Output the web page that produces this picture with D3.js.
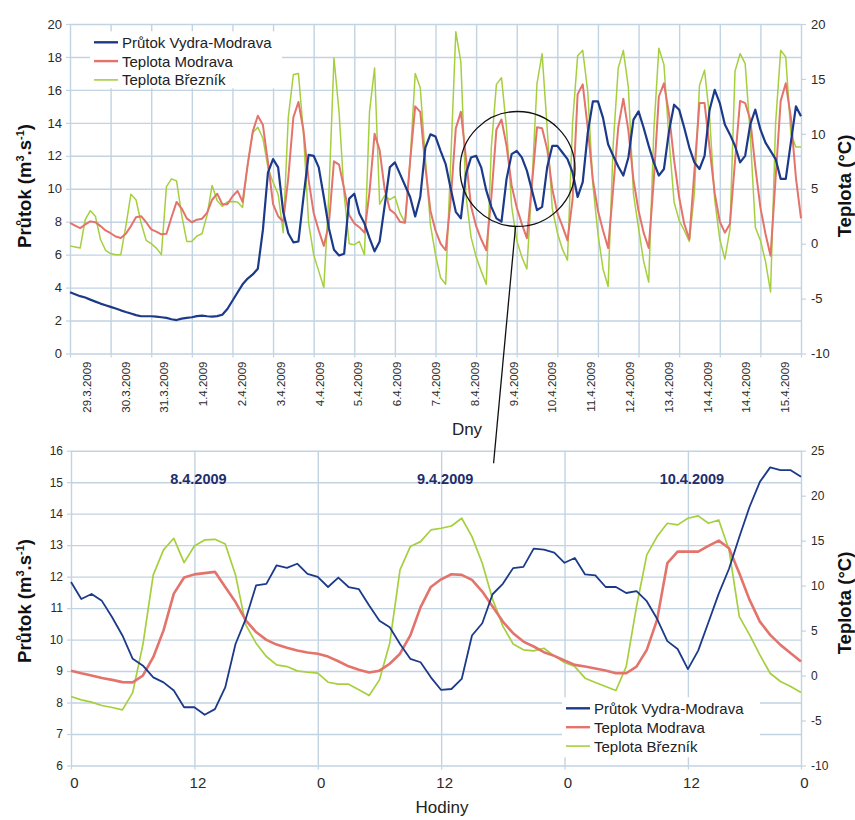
<!DOCTYPE html>
<html><head><meta charset="utf-8">
<script src="https://cdn.jsdelivr.net/npm/d3@7/dist/d3.min.js"></script>
<style>
html,body{margin:0;padding:0;background:#fff;}
svg{display:block;}
</style></head>
<body>
<svg id="chart" width="855" height="820"></svg>
<script>
// ---------------- DATA ----------------
const dayLabels = ["29.3.2009","30.3.2009","31.3.2009","1.4.2009","2.4.2009","3.4.2009","4.4.2009","5.4.2009","6.4.2009","7.4.2009","8.4.2009","9.4.2009","10.4.2009","11.4.2009","12.4.2009","13.4.2009","14.4.2009","14.4.2009","15.4.2009"];
const sampleStepDays = 0.125; // top chart: one sample every 3 hours
const flowTop = [3.72,3.6,3.48,3.4,3.27,3.15,3.03,2.93,2.83,2.73,2.62,2.52,2.43,2.33,2.26,2.26,2.26,2.24,2.2,2.16,
  2.08,2.03,2.12,2.16,2.2,2.27,2.3,2.26,2.24,2.27,2.35,2.7,3.2,3.7,4.2,4.55,4.8,5.15,7.5,11.0,
  11.8,11.3,8.6,7.3,6.75,6.8,9.5,12.06,12.0,11.3,9.5,7.6,6.3,5.95,6.05,9.4,9.7,8.5,7.9,7.0,
  6.2,6.8,9.0,11.3,11.6,10.9,10.2,9.5,8.32,9.5,12.5,13.3,13.17,12.3,11.5,10.0,8.6,8.2,10.9,11.9,
  12.0,11.3,9.9,8.9,8.2,8.0,10.6,12.1,12.3,11.9,11.1,9.9,8.7,8.9,11.3,12.6,12.6,12.2,11.8,11.0,
  9.5,10.4,13.4,15.3,15.3,14.3,12.7,12.0,11.35,10.8,11.9,14.2,14.7,13.7,12.6,11.6,10.8,11.2,13.5,15.1,
  14.8,13.7,12.5,11.6,11.2,12.0,14.8,16.0,15.2,13.9,13.3,12.6,11.6,12.0,13.9,14.8,13.6,12.8,12.3,11.8,
  10.6,10.6,12.8,15.0,14.4];
const tempModravaTop = [1.9,1.65,1.42,1.75,2.03,1.96,1.6,1.2,0.95,0.65,0.52,0.9,1.6,2.4,2.5,1.95,1.3,1.1,0.85,0.9,
  2.4,3.8,3.2,2.3,1.95,2.18,2.27,2.8,4.0,4.55,3.6,3.6,4.3,4.8,3.8,7.2,10.2,11.65,10.8,7.4,
  3.6,2.5,2.0,6.0,11.5,12.9,10.3,5.8,2.8,1.2,-0.2,1.8,7.5,7.2,5.0,2.6,1.85,1.5,1.0,4.7,
  10.0,8.5,4.9,3.1,2.75,2.0,1.9,7.5,12.5,12.0,7.0,3.0,1.2,0.0,-0.6,4.0,10.5,12.0,7.8,3.4,
  1.6,0.4,-0.6,4.2,10.4,11.3,8.9,5.3,3.3,1.8,0.5,5.4,10.6,10.5,8.6,5.0,2.8,1.6,0.3,4.0,
  13.6,14.5,10.5,5.8,3.0,1.2,-0.4,5.0,10.6,13.2,10.3,5.8,3.0,1.0,-0.4,5.8,13.4,14.6,11.8,7.6,
  4.2,1.8,0.4,6.6,12.8,12.8,8.7,4.6,2.0,1.0,1.8,7.5,13.0,12.8,11.3,7.0,3.3,0.9,-1.1,6.0,
  13.0,14.6,11.5,6.0,2.3];
const tempBreznikTop = [-0.2,-0.3,-0.4,2.2,3.0,2.5,0.4,-0.6,-0.9,-1.0,-1.0,1.6,4.5,4.0,1.9,0.3,0.0,-0.4,-1.0,5.2,
  5.9,5.7,2.6,0.2,0.2,0.7,0.9,2.6,5.3,3.9,3.4,3.8,3.85,3.8,3.3,7.2,10.1,10.6,9.6,6.9,
  5.6,4.5,1.0,11.5,15.4,15.5,10.0,1.9,-1.0,-2.5,-4.0,4.5,16.9,12.0,4.5,0.0,-0.1,0.2,-1.0,12.0,
  16.0,3.6,4.4,4.0,4.3,2.8,1.9,7.5,15.5,14.2,7.8,1.7,-1.0,-3.1,-3.7,7.5,19.3,16.5,4.4,0.6,
  -1.2,-2.5,-3.7,8.8,14.5,15.1,10.5,3.4,0.3,-1.2,-2.3,5.5,14.6,17.3,10.5,3.2,1.0,-0.5,-1.5,11.0,
  17.1,17.6,13.8,5.4,0.9,-2.3,-3.9,9.0,16.0,17.6,14.2,4.5,1.4,-1.6,-3.5,10.2,17.8,16.3,9.5,3.8,
  2.1,1.2,0.2,4.6,14.4,15.8,11.5,4.0,0.4,-1.4,1.3,15.7,17.3,16.4,10.0,1.5,0.3,-1.6,-4.4,11.0,
  17.6,17.0,10.0,8.8,8.8];

// bottom chart: hourly values 8.4.2009 0:00 – 10.4.2009 23:00
const flowZoom = [11.83,11.29,11.45,11.23,10.71,10.13,9.39,9.17,8.80,8.64,8.38,7.85,7.85,7.61,7.79,8.48,9.86,10.66,11.72,11.77,
  12.36,12.28,12.41,12.09,11.99,11.67,11.97,11.67,11.6,11.08,10.6,10.39,9.86,9.39,9.28,8.80,8.40,8.43,8.75,10.13,
  10.52,11.44,11.77,12.27,12.31,12.89,12.86,12.76,12.44,12.59,12.07,12.04,11.67,11.67,11.48,11.54,11.22,10.66,9.95,9.70,
  9.06,9.65,10.55,11.46,12.25,13.26,14.22,15.01,15.47,15.38,15.38,15.17];
const tempModravaZoom = [0.54,0.26,0.01,-0.27,-0.48,-0.73,-0.76,0.01,2.04,5.02,9.11,10.9,11.25,11.39,11.53,9.85,8.17,6.14,4.84,3.97,
  3.44,3.09,2.78,2.57,2.43,2.11,1.59,1.03,0.64,0.33,0.54,1.31,2.43,4.46,7.61,9.85,10.7,11.26,11.19,10.63,
  9.34,7.67,6.0,4.71,3.78,3.23,2.6,2.19,1.67,1.19,1.0,0.78,0.56,0.26,0.26,1.0,2.85,6.19,12.49,13.78,
  13.78,13.78,14.41,15.0,14.15,11.37,8.41,6.0,4.52,3.41,2.49,1.56];
const tempBreznikZoom = [-2.33,-2.7,-2.96,-3.33,-3.55,-3.81,-1.9,3.5,11.2,13.97,15.26,12.56,14.41,15.08,15.15,14.63,11.19,5.63,3.6,2.12,
  1.19,1.0,0.52,0.37,0.26,-0.74,-0.96,-0.96,-1.59,-2.22,-0.48,3.6,11.75,14.34,14.89,16.19,16.38,16.63,17.49,15.45,
  12.49,8.5,5.5,3.52,2.86,2.75,3.04,2.19,1.45,1.0,-0.29,-0.77,-1.22,-1.66,1.0,7.67,13.41,15.45,16.93,16.75,
  17.49,17.75,16.93,17.3,13.97,6.56,4.52,2.3,0.26,-0.66,-1.22,-1.88];

const hourTicks = [0,12,24,36,48,60,71];
const hourTickLabels = ["0","12","0","12","0","12","0"];
const zoomDates = ["8.4.2009","9.4.2009","10.4.2009"];
const zoomDateHours = [12,36,60];
const seriesNames = ["Průtok Vydra-Modrava","Teplota Modrava","Teplota Březník"];
const flowTicksTop = d3.range(0,21,2);
const tempTicksTop = d3.range(-10,21,5);
const flowTicksZoom = d3.range(6,17,1);
const tempTicksZoom = d3.range(-10,26,5);
const focus = {day: 11.02, flow: 11.2, radiusDays: 1.415}; // circled window
const focusTarget = {hour: 41.1, flow: 15.6};

// ---------------- DRAWING ----------------
const FONT = "'Liberation Sans', Arial, Helvetica, sans-serif";
const COL = {grid:"#c2d3e2", flow:"#1c3a8a", mod:"#e3736b", brez:"#a6cf3f", text:"#2a2a2a", date:"#1e2d6b"};
const seriesColors = [COL.flow, COL.mod, COL.brez];

const svg = d3.select("#chart").attr("font-family", FONT);
svg.append("rect").attr("width",855).attr("height",820).attr("fill","#fff");

const xT = d3.scaleLinear().domain([0,18]).range([70,801]);
const yTL = d3.scaleLinear().domain([0,20]).range([353.5,24]);
const yTR = d3.scaleLinear().domain([-10,20]).range([353.5,24]);
const xTLab = d3.scalePoint().domain(d3.range(dayLabels.length)).range([xT(0.4), xT(17.6)]);

const xB = d3.scaleLinear().domain([0,71]).range([71,801]);
const yBL = d3.scaleLinear().domain([6,16]).range([765.5,450.7]);
const yBR = d3.scaleLinear().domain([-10,25]).range([765.5,450.7]);

function gridStyle(g){ g.select(".domain").remove(); g.selectAll("line").attr("stroke",COL.grid).attr("stroke-width",1.4); }
function axisStyle(g,size){
  g.attr("font-family",FONT).attr("font-size",size);
  g.select(".domain").remove();
  g.selectAll(".tick line").attr("stroke",COL.grid).attr("stroke-width",1.2);
  g.selectAll(".tick text").attr("fill",COL.text);
}

function panel(o){
  const g = svg.append("g");
  const w = o.x.range()[1]-o.x.range()[0];
  const h = o.yL.range()[0]-o.yL.range()[1];
  g.append("g").attr("transform",`translate(${o.x.range()[0]},0)`)
    .call(d3.axisLeft(o.yL).tickValues(o.yTicks).tickSize(-w).tickFormat("")).call(gridStyle);
  g.append("g").attr("transform",`translate(0,${o.yL.range()[0]})`)
    .call(d3.axisBottom(o.x).tickValues(o.xGrid).tickSize(-h).tickFormat("")).call(gridStyle);
  g.append("g").attr("transform",`translate(${o.x.range()[0]},0)`)
    .call(d3.axisLeft(o.yL).tickValues(o.yTicks).tickSize(4).tickPadding(4).tickFormat(d=>String(d)))
    .call(a=>axisStyle(a,o.yFont));
  g.append("g").attr("transform",`translate(${o.x.range()[1]},0)`)
    .call(d3.axisRight(o.yR).tickValues(o.rTicks).tickSize(5).tickPadding(5).tickFormat(d=>String(d)))
    .call(a=>axisStyle(a,o.yFont));
  g.append("g").attr("transform",`translate(0,${o.yL.range()[0]})`)
    .call(d3.axisBottom(o.x).tickValues(o.xGrid).tickSize(4).tickFormat(""))
    .call(a=>axisStyle(a,10));
  return g;
}

// ---- top panel ----
const gTop = panel({x:xT, yL:yTL, yR:yTR, yTicks:flowTicksTop, rTicks:tempTicksTop, xGrid:d3.range(0,19), yFont:13});
gTop.append("g").attr("transform",`translate(0,${yTL(0)})`)
  .call(d3.axisBottom(xTLab).tickSize(0).tickFormat(i=>dayLabels[i]))
  .call(a=>{
    axisStyle(a,11.5);
    a.selectAll(".tick text").attr("transform","rotate(-90)").attr("text-anchor","end")
      .attr("x",-8).attr("y",0).attr("dy","0.35em");
  });

const lineTopL = d3.line().x((d,i)=>xT(i*sampleStepDays)).y(d=>yTL(d));
const lineTopR = d3.line().x((d,i)=>xT(i*sampleStepDays)).y(d=>yTR(d));
gTop.append("path").datum(tempBreznikTop).attr("d",lineTopR).attr("fill","none").attr("stroke",COL.brez).attr("stroke-width",1.5).attr("stroke-linejoin","round");
gTop.append("path").datum(tempModravaTop).attr("d",lineTopR).attr("fill","none").attr("stroke",COL.mod).attr("stroke-width",2).attr("stroke-linejoin","round");
gTop.append("path").datum(flowTop).attr("d",lineTopL).attr("fill","none").attr("stroke",COL.flow).attr("stroke-width",2.2).attr("stroke-linejoin","round");

// ---- bottom panel ----
const gBot = panel({x:xB, yL:yBL, yR:yBR, yTicks:flowTicksZoom, rTicks:tempTicksZoom, xGrid:hourTicks, yFont:12});
gBot.append("g").attr("transform",`translate(0,${yBL(6)})`)
  .call(d3.axisBottom(xB).tickValues(hourTicks).tickSize(0).tickPadding(12).tickFormat((d,i)=>hourTickLabels[i]))
  .call(a=>{ axisStyle(a,15); a.selectAll(".tick text").attr("dx",3); });

const lineBotL = d3.line().x((d,i)=>xB(i)).y(d=>yBL(d));
const lineBotR = d3.line().x((d,i)=>xB(i)).y(d=>yBR(d));
gBot.append("path").datum(tempBreznikZoom).attr("d",lineBotR).attr("fill","none").attr("stroke",COL.brez).attr("stroke-width",1.7).attr("stroke-linejoin","round");
gBot.append("path").datum(tempModravaZoom).attr("d",lineBotR).attr("fill","none").attr("stroke",COL.mod).attr("stroke-width",2.6).attr("stroke-linejoin","round");
gBot.append("path").datum(flowZoom).attr("d",lineBotL).attr("fill","none").attr("stroke",COL.flow).attr("stroke-width",1.8).attr("stroke-linejoin","round");

gBot.selectAll("text.date").data(zoomDates).join("text").attr("class","date")
  .attr("x",(d,i)=>xB(zoomDateHours[i])+4).attr("y",484)
  .attr("text-anchor","middle").attr("font-weight","bold").attr("font-size",14.5).attr("fill",COL.date).text(d=>d);

// ---- legends ----
function legend(x0,y0,dy,boxW,boxH){
  const g = svg.append("g");
  g.append("rect").attr("x",x0-4).attr("y",y0-11).attr("width",boxW).attr("height",boxH).attr("fill","#fff");
  const it = g.selectAll("g").data(seriesNames).join("g").attr("transform",(d,i)=>`translate(${x0},${y0+i*dy})`);
  it.append("line").attr("x1",0).attr("x2",24).attr("y1",0).attr("y2",0).attr("stroke",(d,i)=>seriesColors[i]).attr("stroke-width",(d,i)=>i===2?1.6:2.4);
  it.append("text").attr("x",28).attr("y",5.5).attr("font-size",15).attr("fill","#222").text(d=>d);
}
legend(94,42.3,18.8,192,57);
legend(566,708.3,18.9,198,60);

// ---- axis titles ----
function flowTitle(x,y){
  const t = svg.append("text").attr("transform",`translate(${x},${y}) rotate(-90)`)
    .attr("text-anchor","middle").attr("font-weight","bold").attr("font-size",18.5).attr("fill","#111").attr("dy","0.35em");
  t.append("tspan").text("Průtok (m");
  t.append("tspan").attr("dy",-7).attr("font-size",11).text("3");
  t.append("tspan").attr("dy",7).text(".s");
  t.append("tspan").attr("dy",-7).attr("font-size",11).text("-1");
  t.append("tspan").attr("dy",7).text(")");
}
function tempTitle(x,y){
  svg.append("text").attr("transform",`translate(${x},${y}) rotate(-90)`)
    .attr("text-anchor","middle").attr("font-weight","bold").attr("font-size",18.5).attr("fill","#111").attr("dy","0.35em")
    .text("Teplota (°C)");
}
flowTitle(25,186); tempTitle(845,186);
flowTitle(25,601); tempTitle(845,603);

svg.append("text").attr("x",467).attr("y",435).attr("text-anchor","middle").attr("font-size",17).attr("fill","#222").text("Dny");
svg.append("text").attr("x",442).attr("y",813).attr("text-anchor","middle").attr("font-size",17).attr("fill","#222").text("Hodiny");

// ---- focus circle + connector ----
const cx = xT(focus.day), cy = yTL(focus.flow), r = xT(focus.radiusDays)-xT(0);
svg.append("circle").attr("cx",cx).attr("cy",cy).attr("r",r).attr("fill","none").attr("stroke","#111").attr("stroke-width",1.3);
svg.append("line").attr("x1",cx-2).attr("y1",cy+r).attr("x2",xB(focusTarget.hour)).attr("y2",yBL(focusTarget.flow))
  .attr("stroke","#111").attr("stroke-width",1.3);
</script>
</body></html>
